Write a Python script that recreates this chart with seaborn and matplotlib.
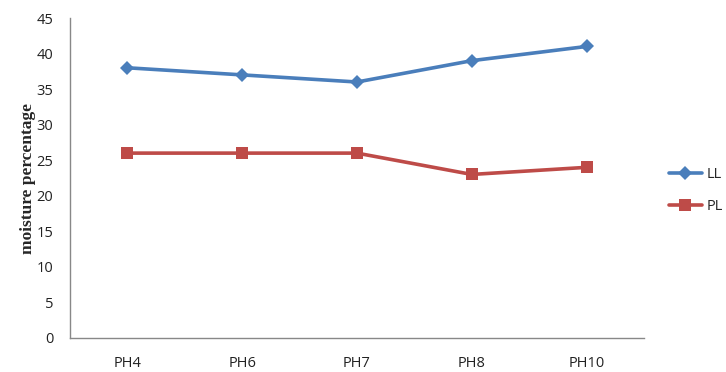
import matplotlib
matplotlib.use("Agg")
import matplotlib.pyplot as plt
import seaborn as sns
import pandas as pd

categories = ["PH4", "PH6", "PH7", "PH8", "PH10"]
ll_values = [38, 37, 36, 39, 41]
pl_values = [26, 26, 26, 23, 24]

sns.set_style("white")
plt.rcParams["font.family"] = ["Open Sans", "DejaVu Sans"]

fig = plt.figure(figsize=(7.26, 3.72), dpi=100)
ax = fig.add_axes([0.0964, 0.0914, 0.7906, 0.8602])

x = list(range(len(categories)))
sns.lineplot(x=x, y=ll_values, ax=ax, color="#4A7EBB", linewidth=2.6,
             marker="D", markersize=7.5, markeredgewidth=0, label="LL")
sns.lineplot(x=x, y=pl_values, ax=ax, color="#BE4B48", linewidth=2.6,
             marker="s", markersize=9, markeredgewidth=0, label="PL")

ax.set_xlim(-0.5, len(categories) - 0.5)
ax.set_ylim(0, 45)
ax.set_yticks(range(0, 46, 5))
ax.set_xticks(x)
ax.set_xticklabels(categories)
ax.tick_params(axis="both", length=0, labelsize=10.5, colors="#222222")
ax.tick_params(axis="x", pad=13)
ax.tick_params(axis="y", pad=12)
ax.set_ylabel("moisture percentage", fontsize=12.5, fontweight="bold",
              family=["Liberation Serif", "DejaVu Serif"], labelpad=0)

for side in ("top", "right"):
    ax.spines[side].set_visible(False)
for side in ("left", "bottom"):
    ax.spines[side].set_color("#888888")
    ax.spines[side].set_linewidth(1.0)

handles, labels = ax.get_legend_handles_labels()
ax.get_legend().remove()
fig.legend(handles, labels, loc="upper left", bbox_to_anchor=(0.913, 0.567),
           frameon=False, fontsize=10.5, handlelength=2.3, handletextpad=0.3,
           labelspacing=1.2, borderaxespad=0)

fig.savefig("out.png", dpi=100)
